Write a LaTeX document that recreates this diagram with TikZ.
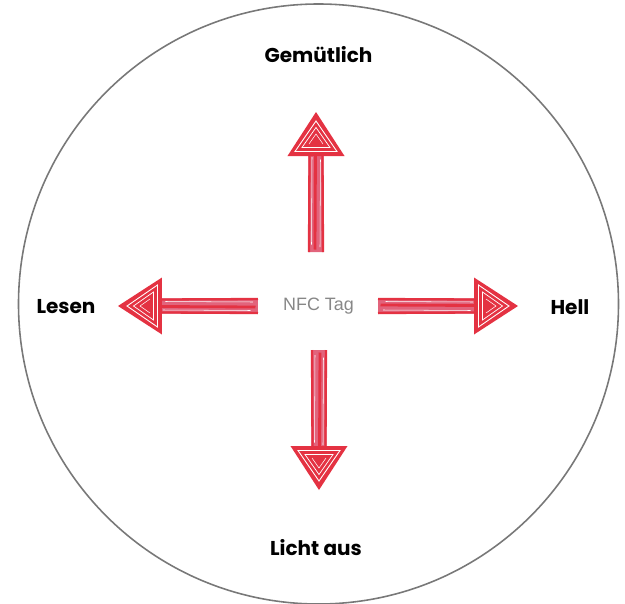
\documentclass[tikz,border=0pt]{standalone}
\usepackage{fontspec}
\newfontfamily\labelfont{Poppins}
\newfontfamily\tagfont{Liberation Sans}
\definecolor{arrowred}{RGB}{228,50,66}
\definecolor{arrowpink}{RGB}{226,100,124}
\definecolor{ringgray}{RGB}{120,120,120}
\definecolor{taggray}{RGB}{135,135,135}

\begin{document}
\begin{tikzpicture}[
    direction/.style={
        font=\labelfont\bfseries\fontsize{11.4}{13}\selectfont,
        text=black,
        inner sep=2pt
    },
    tag/.style={
        font=\tagfont\fontsize{10.2}{12}\selectfont,
        text=taggray,
        inner sep=2pt
    },
    sketcharrow/.pic={
        % shaft
        \fill[arrowpink] (0,-0.16) -- (1.95,-0.15) -- (1.95,0.15) -- (0,0.16) -- cycle;
        \draw[arrowred, line width=1.3pt] (0,0.14) -- (1.95,0.13);
        \draw[arrowred, line width=1.3pt] (0,-0.14) -- (1.95,-0.13);
        \draw[arrowred, line width=1.6pt] (0.05,0.02) -- (1.95,0.01);
        \draw[white, line width=0.3pt] (0.15,0.09) -- (1.9,0.08);
        \draw[white, line width=0.3pt] (0.1,-0.08) -- (1.85,-0.09);
        % head
        \fill[arrowred] (1.92,-0.57) -- (2.8,0) -- (1.92,0.57) -- cycle;
        \draw[white, line width=0.5pt] (2.01,-0.42) -- (2.62,0) -- (2.01,0.42) -- cycle;
        \draw[white, line width=0.4pt] (2.09,-0.28) -- (2.49,0) -- (2.09,0.28) -- cycle;
        \draw[white, line width=0.3pt] (2.16,-0.14) -- (2.36,0) -- (2.16,0.14);
    }
]
\useasboundingbox (-6.37,-5.98) rectangle (6.13,6.08);

\draw[ringgray, line width=0.9pt] (0,0) circle (6);

\node[tag] (nfc) at (0,-0.04) {NFC Tag};

\node[direction] (gem) at (0,4.98) {Gemütlich};
\node[direction] (lesen) at (-5.05,-0.06) {Lesen};
\node[direction] (hell) at (5.03,-0.06) {Hell};
\node[direction] (aus) at (-0.05,-4.88) {Licht aus};

\coordinate (upfoot) at (-0.05,1.04);
\coordinate (leftfoot) at (-1.21,-0.04);
\coordinate (rightfoot) at (1.19,-0.04);
\coordinate (downfoot) at (0.01,-0.92);

\pic[rotate=90] at (upfoot) {sketcharrow};
\pic[rotate=180] at (leftfoot) {sketcharrow};
\pic at (rightfoot) {sketcharrow};
\pic[rotate=270] at (downfoot) {sketcharrow};

\end{tikzpicture}
\end{document}
